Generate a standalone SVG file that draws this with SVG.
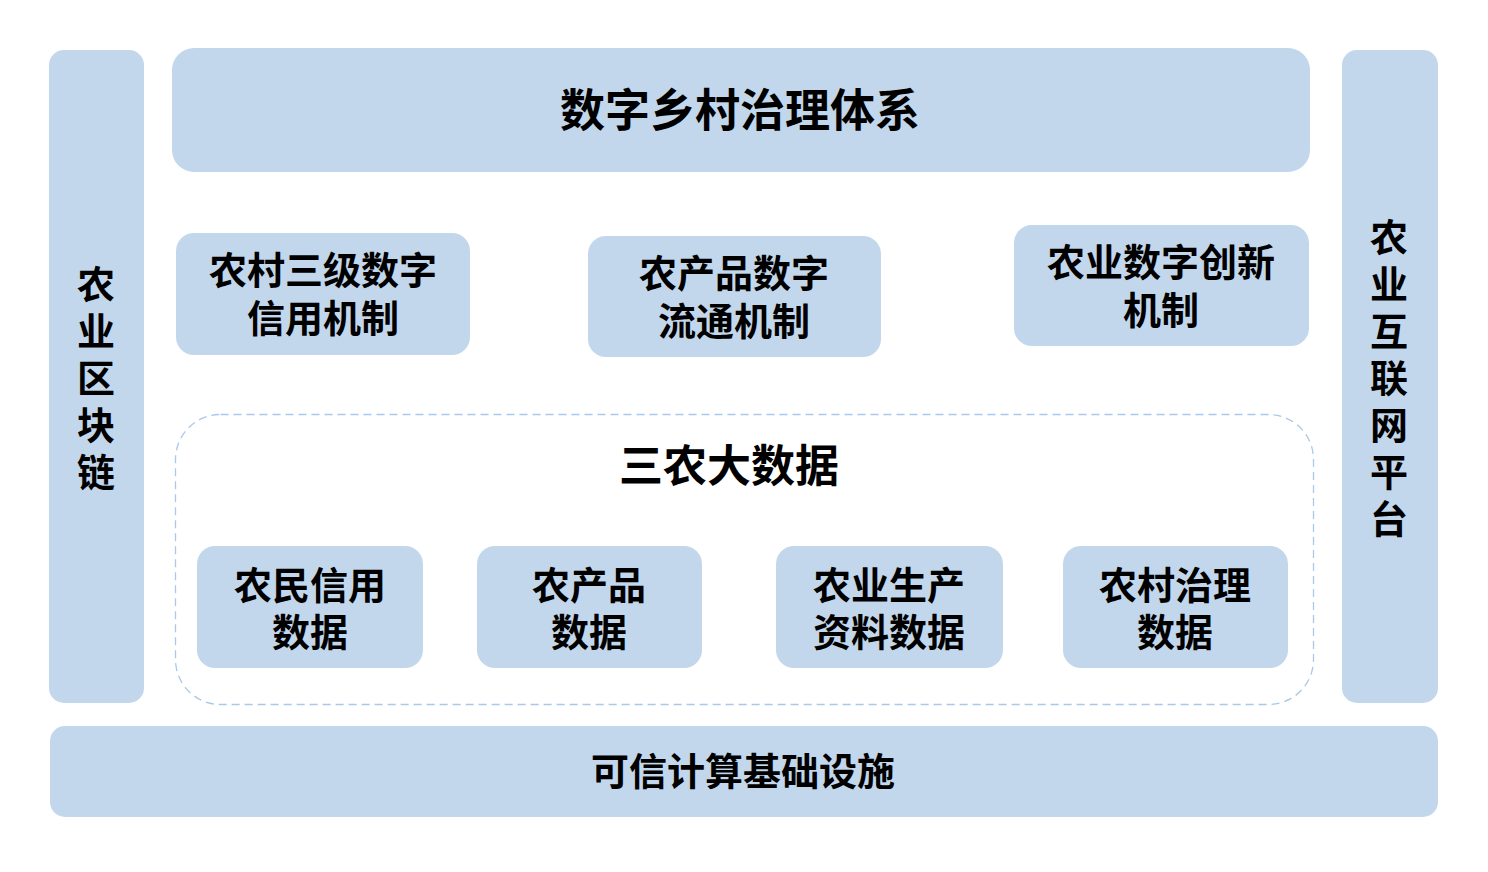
<svg xmlns="http://www.w3.org/2000/svg" width="1488" height="872" viewBox="0 0 1488 872">
<style>
.box{fill:#C2D7EC}
.t{font-family:"Noto Sans CJK SC","Noto Sans",sans-serif;font-weight:bold;fill:#000;text-anchor:middle;dominant-baseline:central}
.s39{font-size:38px}
.s44{font-size:44px}
.v{font-family:"Noto Sans CJK SC","Noto Sans",sans-serif;font-weight:bold;fill:#000;font-size:38px;writing-mode:vertical-rl;text-anchor:middle;letter-spacing:9px}
</style>
<rect width="1488" height="872" fill="#fff"/>
<g id="connectors"></g>
<g id="blockchain">
<rect class="box" x="49" y="50" width="95" height="653" rx="15"/>
<text class="v" x="96" y="382">农业区块链</text>
</g>
<g id="platform">
<rect class="box" x="1342" y="50" width="96" height="653" rx="15"/>
<text class="v" x="1389" y="382">农业互联网平台</text>
</g>
<g id="top">
<rect class="box" x="172" y="48" width="1138" height="124" rx="22"/>
<text class="t" style="font-size:45px" x="740" y="107">数字乡村治理体系</text>
</g>
<g id="mech1">
<rect class="box" x="176" y="233" width="294" height="122" rx="18"/>
<text class="t s39"><tspan x="323" y="267">农村三级数字</tspan><tspan x="323" y="315">信用机制</tspan></text>
</g>
<g id="mech2">
<rect class="box" x="588" y="236" width="293" height="121" rx="18"/>
<text class="t s39"><tspan x="734" y="270">农产品数字</tspan><tspan x="734" y="318">流通机制</tspan></text>
</g>
<g id="mech3">
<rect class="box" x="1014" y="225" width="295" height="121" rx="18"/>
<text class="t s39"><tspan x="1161" y="259">农业数字创新</tspan><tspan x="1161" y="307">机制</tspan></text>
</g>
<g id="bigdata">
<rect x="175.5" y="414.5" width="1138" height="290" rx="45" fill="none" stroke="#A9C8EA" stroke-width="1.3" stroke-dasharray="8 5"/>
<text class="t s44" x="729" y="463">三农大数据</text>
</g>
<g id="d1">
<rect class="box" x="197" y="546" width="226" height="122" rx="18"/>
<text class="t s39"><tspan x="310" y="582">农民信用</tspan><tspan x="310" y="629">数据</tspan></text>
</g>
<g id="d2">
<rect class="box" x="477" y="546" width="225" height="122" rx="18"/>
<text class="t s39"><tspan x="589" y="582">农产品</tspan><tspan x="589" y="629">数据</tspan></text>
</g>
<g id="d3">
<rect class="box" x="776" y="546" width="227" height="122" rx="18"/>
<text class="t s39"><tspan x="889" y="582">农业生产</tspan><tspan x="889" y="629">资料数据</tspan></text>
</g>
<g id="d4">
<rect class="box" x="1063" y="546" width="225" height="122" rx="18"/>
<text class="t s39"><tspan x="1175" y="582">农村治理</tspan><tspan x="1175" y="629">数据</tspan></text>
</g>
<g id="infra">
<rect class="box" x="50" y="726" width="1388" height="91" rx="15"/>
<text class="t s39" x="743" y="768">可信计算基础设施</text>
</g>
</svg>
